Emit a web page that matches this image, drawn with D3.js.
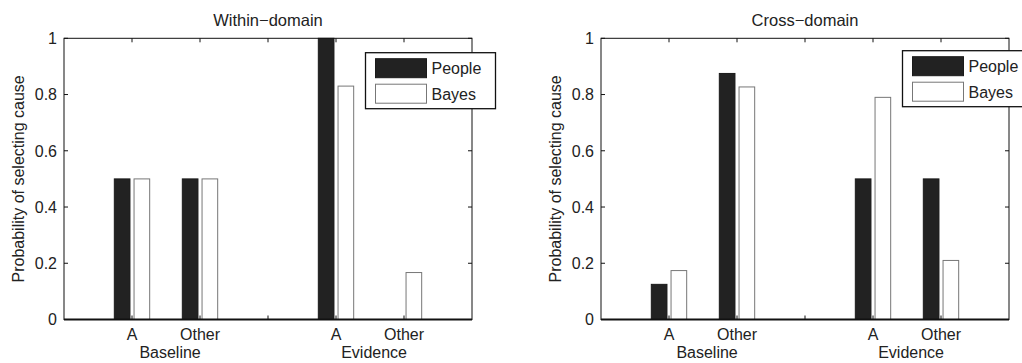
<!DOCTYPE html>
<html>
<head>
<meta charset="utf-8">
<title>Cause selection</title>
<script src="https://cdn.jsdelivr.net/npm/d3@7"></script>
<style>
  body { margin: 0; background: #fff; }
  svg text { font-family: "Liberation Sans", Arial, sans-serif; fill: #222; font-size: 16px; }
  .box { fill: none; stroke: #111; stroke-width: 1px; }
  .tick-mark { stroke: #111; stroke-width: 1px; }
</style>
</head>
<body>
<div id="chart"></div>
<script>
// data
var tickPos = [1, 2, 3, 4, 5];
var tickLabels = ["A", "Other", "", "A", "Other"];
var barPos = [1, 2, 4, 5];
var groups = ["Baseline", "Evidence"];
var groupPos = [1.56, 4.56];
var seriesNames = ["People", "Bayes"];
var yTicks = [0, 0.2, 0.4, 0.6, 0.8, 1];

var withinPeople = [0.5, 0.5, 1.0, 0];
var withinBayes  = [0.5, 0.5, 0.83, 0.167];
var crossPeople  = [0.125, 0.875, 0.5, 0.5];
var crossBayes   = [0.174, 0.827, 0.79, 0.21];

var width = 1022, height = 363;
var svg = d3.select("#chart").append("svg")
  .attr("width", width).attr("height", height);

var panels = [
  { title: "Within-domain", left: 64, people: withinPeople, bayes: withinBayes, legTop: 52.7 },
  { title: "Cross-domain", left: 601, people: crossPeople, bayes: crossBayes, legTop: 50.7 }
];

var plotW = 408, plotTop = 38.3, plotBottom = 319.5;
var y = d3.scaleLinear().domain([0, 1]).range([plotBottom, plotTop]);

panels.forEach(function(p) {
  var x = d3.scaleLinear().domain([0, 6]).range([p.left, p.left + plotW]);
  var g = svg.append("g");

  // bars
  var rows = barPos.map(function(pos, i) { return { pos: pos, people: p.people[i], bayes: p.bayes[i] }; });
  g.selectAll(".people").data(rows.filter(function(d) { return d.people > 0; }))
    .enter().append("rect")
    .attr("x", function(d) { return x(d.pos - 0.26); })
    .attr("width", function(d) { return x(d.pos - 0.03) - x(d.pos - 0.26); })
    .attr("y", function(d) { return y(d.people); })
    .attr("height", function(d) { return y(0) - y(d.people); })
    .attr("fill", "#222").attr("stroke", "#1a1a1a").attr("stroke-width", 1);
  g.selectAll(".bayes").data(rows)
    .enter().append("rect")
    .attr("x", function(d) { return x(d.pos + 0.03); })
    .attr("width", function(d) { return x(d.pos + 0.26) - x(d.pos + 0.03); })
    .attr("y", function(d) { return y(d.bayes); })
    .attr("height", function(d) { return y(0) - y(d.bayes); })
    .attr("fill", "#fff").attr("stroke", "#777").attr("stroke-width", 1);

  // box + inward ticks
  g.append("rect").attr("class", "box")
    .attr("x", x(0)).attr("y", y(1))
    .attr("width", x(6) - x(0)).attr("height", y(0) - y(1));
  g.append("line").attr("x1", x(0)).attr("x2", x(6)).attr("y1", y(0)).attr("y2", y(0))
    .attr("stroke", "#111").attr("stroke-width", 2);

  tickPos.forEach(function(t) {
    g.append("line").attr("class", "tick-mark")
      .attr("x1", x(t)).attr("x2", x(t)).attr("y1", y(0)).attr("y2", y(0) - 4);
    g.append("line").attr("class", "tick-mark")
      .attr("x1", x(t)).attr("x2", x(t)).attr("y1", y(1)).attr("y2", y(1) + 4);
  });
  yTicks.forEach(function(t) {
    g.append("line").attr("class", "tick-mark")
      .attr("x1", x(0)).attr("x2", x(0) + 4).attr("y1", y(t)).attr("y2", y(t));
    g.append("line").attr("class", "tick-mark")
      .attr("x1", x(6)).attr("x2", x(6) - 4).attr("y1", y(t)).attr("y2", y(t));
    g.append("text").attr("x", x(0) - 7).attr("y", y(t)).attr("dy", "0.36em")
      .attr("text-anchor", "end")
      .text(d3.format("~g")(t));
  });

  tickPos.forEach(function(t, i) {
    g.append("text").attr("x", x(t)).attr("y", 339.5)
      .attr("text-anchor", "middle").text(tickLabels[i]);
  });
  groups.forEach(function(name, i) {
    g.append("text").attr("x", x(groupPos[i])).attr("y", 357.5)
      .attr("text-anchor", "middle").text(name);
  });

  g.append("text").attr("x", x(3)).attr("y", 26)
    .attr("text-anchor", "middle").style("font-size", "16.5px")
    .text(p.title.replace("-", "\u2212"));

  g.append("text")
    .attr("transform", "translate(" + (p.left - 40) + "," + ((plotTop + plotBottom) / 2) + ") rotate(-90)")
    .attr("text-anchor", "middle")
    .text("Probability of selecting cause");

  // legend
  var lx = x(6) - 106.5, ly = p.legTop;
  var leg = g.append("g").attr("transform", "translate(" + lx + "," + ly + ")");
  leg.append("rect").attr("width", 130).attr("height", 56)
    .attr("fill", "#fff").attr("stroke", "#111").attr("stroke-width", 1.3);
  seriesNames.forEach(function(name, i) {
    leg.append("rect").attr("x", 10).attr("y", 6 + i * 25.5)
      .attr("width", 51).attr("height", 19)
      .attr("fill", i === 0 ? "#222" : "#fff")
      .attr("stroke", i === 0 ? "#1a1a1a" : "#777").attr("stroke-width", 1);
    leg.append("text").attr("x", 66).attr("y", 21.5 + i * 25.5)
      .text(name);
  });
});
</script>
</body>
</html>
